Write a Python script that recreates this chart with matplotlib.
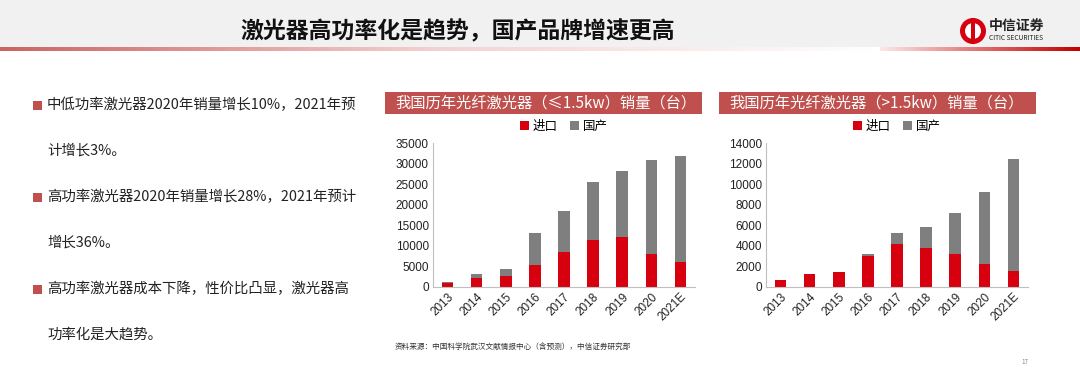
import numpy as np
import matplotlib.pyplot as plt
from matplotlib.patches import Rectangle, Circle
from matplotlib.colors import LinearSegmentedColormap

plt.rcParams['font.family'] = ['Noto Sans CJK SC', 'DejaVu Sans']

# data
years = ["2013", "2014", "2015", "2016", "2017", "2018", "2019", "2020", "2021E"]
low_import = [1000, 2200, 2500, 5400, 8500, 11500, 12200, 8000, 6000]
low_domestic = [200, 800, 1800, 7600, 10000, 14000, 16000, 23000, 26000]
high_import = [620, 1200, 1420, 3000, 4200, 3800, 3200, 2200, 1500]
high_domestic = [40, 20, 60, 200, 1000, 2000, 4000, 7000, 11000]

title = "激光器高功率化是趋势，国产品牌增速更高"
bullets = [
    ("中低功率激光器2020年销量增长10%，2021年预", "计增长3%。"),
    ("高功率激光器2020年销量增长28%，2021年预计", "增长36%。"),
    ("高功率激光器成本下降，性价比凸显，激光器高", "功率化是大趋势。"),
]
chart_titles = ["我国历年光纤激光器（≤1.5kw）销量（台）",
                "我国历年光纤激光器（>1.5kw）销量（台）"]
source = "资料来源：中国科学院武汉文献情报中心（含预测），中信证券研究部"

RED = "#D7000F"
GRAY = "#7F7F7F"
BOX = "#C0504D"

W, H = 1080, 377
fig = plt.figure(figsize=(W / 100, H / 100), dpi=100)

# background layer in pixel coordinates
bg = fig.add_axes([0, 0, 1, 1])
bg.axis("off")
bg.add_patch(Rectangle((0, 0), W, 47, color="#F1F1F1", lw=0))
grad = np.linspace(0, 1, 256)
cm_left = LinearSegmentedColormap.from_list("l", ["#CB6462", "#F3D3D2", "#FFFFFF"])
cm_right = LinearSegmentedColormap.from_list("r", ["#FBE9E9", "#E07070", "#C00000"])
bg.imshow(grad[None, :], extent=(0, 880, 51, 47), cmap=cm_left, aspect="auto")
bg.imshow(grad[None, :], extent=(880, W, 51, 47), cmap=cm_right, aspect="auto")
bg.set_xlim(0, W)
bg.set_ylim(H, 0)
bg.text(458, 32, title, fontsize=16.5, fontweight="bold", ha="center", va="center", color="#111111")

# logo
bg.add_patch(Circle((973, 31), 13, color="#D7000F", lw=0))
bg.add_patch(Circle((973, 31), 8, color="white", lw=0))
bg.add_patch(Rectangle((971, 18), 4, 26, color="#D7000F", lw=0))
bg.text(989, 26, "中信证券", fontsize=10, fontweight="bold", ha="left", va="center", color="#222222")
bg.text(989, 38, "CITIC SECURITIES", fontsize=4.8, ha="left", va="center", color="#222222")

# bullets
ys = [105, 151, 197, 243, 289, 335]
for i, (l1, l2) in enumerate(bullets):
    y1, y2 = ys[2 * i], ys[2 * i + 1]
    bg.add_patch(Rectangle((33, y1 - 4.5), 9, 9, color=BOX, lw=0))
    bg.text(47, y1, l1, fontsize=10.4, ha="left", va="center", color="#222222")
    bg.text(47, y2, l2, fontsize=10.4, ha="left", va="center", color="#222222")

bg.text(395, 347, source, fontsize=5.5, ha="left", va="center", color="#333333")
bg.text(1028, 362, "17", fontsize=4.5, ha="right", va="center", color="#888888")

# chart title boxes
for (x0, x1), t in zip([(385, 702), (719, 1036)], chart_titles):
    bg.add_patch(Rectangle((x0, 92), x1 - x0, 22, color=BOX, lw=0))
    bg.text(x0 + 10, 103, t, fontsize=11, ha="left", va="center", color="white")


def draw(left_px, right_px, imp, dom, ymax, step):
    ax = fig.add_axes([left_px / W, (H - 286.7) / H, (right_px - left_px) / W, 143.4 / H])
    x = np.arange(len(years))
    ax.bar(x, imp, width=0.4, color=RED, label="进口")
    ax.bar(x, dom, width=0.4, bottom=imp, color=GRAY, label="国产")
    ax.set_xlim(-0.5, len(years) - 0.5)
    ax.set_ylim(0, ymax)
    ax.set_yticks(np.arange(0, ymax + 1, step))
    ax.set_xticks(x)
    ax.set_xticklabels(years, rotation=45, ha="right", rotation_mode="anchor")
    for lab in ax.get_xticklabels() + ax.get_yticklabels():
        lab.set_fontfamily(["Liberation Sans", "DejaVu Sans"])
        lab.set_fontsize(8.5)
        lab.set_color("#222222")
    ax.tick_params(length=0, pad=3)
    for s in ["top", "right"]:
        ax.spines[s].set_visible(False)
    for s in ["left", "bottom"]:
        ax.spines[s].set_color("#BFBFBF")
        ax.spines[s].set_linewidth(0.8)
    ax.legend(loc="center", bbox_to_anchor=(0.5, 1.12), ncol=2, frameon=False,
              fontsize=9, handlelength=0.7, handleheight=0.7, handletextpad=0.3,
              columnspacing=1.0, borderpad=0)
    return ax


draw(433, 695, low_import, low_domestic, 35000, 5000)
draw(766, 1028, high_import, high_domestic, 14000, 2000)

fig.savefig("out.png", dpi=100)
